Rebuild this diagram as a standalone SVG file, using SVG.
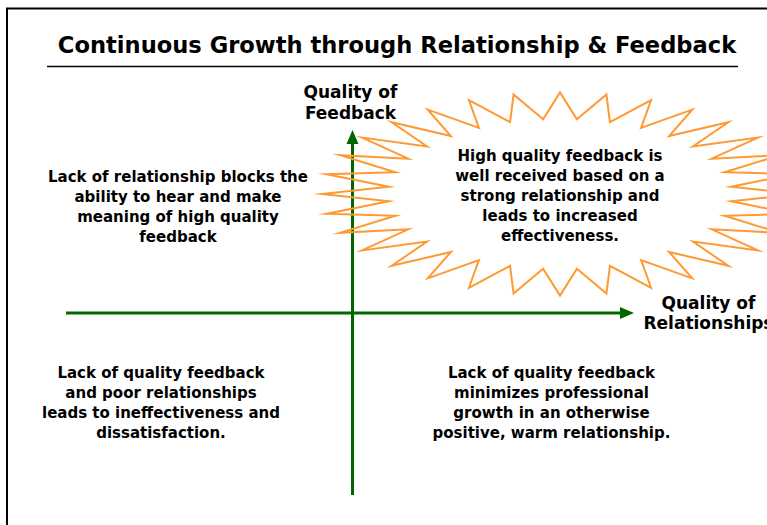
<svg xmlns="http://www.w3.org/2000/svg" width="767" height="525" viewBox="0 0 767 525">
<style>
.t{font-family:"DejaVu Sans","Verdana",sans-serif;font-weight:bold;font-size:15px;fill:#000;text-anchor:middle}
.lab{font-family:"DejaVu Sans","Verdana",sans-serif;font-weight:bold;font-size:17px;fill:#000;text-anchor:middle}
.title{font-family:"DejaVu Sans","Verdana",sans-serif;font-weight:bold;font-size:22.6px;fill:#000;text-anchor:middle}
.ax{stroke:#006600;stroke-width:3;fill:none}
.ah{fill:#006600}
.star{fill:none;stroke:#FF9933;stroke-width:2;stroke-linejoin:miter;stroke-miterlimit:20}
</style>
<rect x="0" y="0" width="767" height="525" fill="#fff"/>
<rect x="7" y="8.5" width="820" height="600" fill="none" stroke="#000" stroke-width="2"/>
<g id="title">
<text class="title" x="397" y="52.5">Continuous Growth through Relationship &amp; Feedback</text>
<line x1="47" y1="66.5" x2="738" y2="66.5" stroke="#000" stroke-width="1.5"/>
</g>
<g id="connectors">
<line class="ax" x1="352.5" y1="142" x2="352.5" y2="495"/>
<polygon class="ah" points="352.5,130 346.5,144 358.5,144"/>
<line class="ax" x1="66" y1="313" x2="621" y2="313"/>
<polygon class="ah" points="634,313 620,307 620,319"/>
</g>
<g id="star">
<polygon class="star" points="798,194 731.17,186.65 793.43,174.2 724.59,172.23 779.88,155.16 711.69,158.64 757.89,137.61 692.96,146.42 728.29,122.23 669.12,136.02 692.23,109.61 641.08,127.86 651.08,100.23 609.93,122.23 606.43,94.45 576.86,119.36 560,92.5 543.14,119.36 513.57,94.45 510.07,122.23 468.92,100.23 478.92,127.86 427.77,109.61 450.88,136.02 391.71,122.23 427.04,146.42 362.11,137.61 408.31,158.64 340.12,155.16 395.41,172.23 326.57,174.2 388.83,186.65 322,194 388.83,201.35 326.57,213.8 395.41,215.77 340.12,232.84 408.31,229.36 362.11,250.39 427.04,241.58 391.71,265.77 450.88,251.98 427.77,278.39 478.92,260.14 468.92,287.77 510.07,265.77 513.57,293.55 543.14,268.64 560,295.5 576.86,268.64 606.43,293.55 609.93,265.77 651.08,287.77 641.08,260.14 692.23,278.39 669.12,251.98 728.29,265.77 692.96,241.58 757.89,250.39 711.69,229.36 779.88,232.84 724.59,215.77 793.43,213.8 731.17,201.35"/>
<text class="t" x="560" y="161">High quality feedback is</text>
<text class="t" x="560" y="181">well received based on a</text>
<text class="t" x="560" y="201">strong relationship and</text>
<text class="t" x="560" y="221">leads to increased</text>
<text class="t" x="560" y="241">effectiveness.</text>
</g>
<g id="label-feedback">
<text class="lab" x="350.5" y="98">Quality of</text>
<text class="lab" x="350.5" y="119">Feedback</text>
</g>
<g id="label-relationships">
<text class="lab" x="708.5" y="308.5">Quality of</text>
<text class="lab" x="708.5" y="329">Relationships</text>
</g>
<g id="q-top-left">
<text class="t" x="178" y="182">Lack of relationship blocks the</text>
<text class="t" x="178" y="202">ability to hear and make</text>
<text class="t" x="178" y="222">meaning of high quality</text>
<text class="t" x="178" y="242">feedback</text>
</g>
<g id="q-bottom-left">
<text class="t" x="161" y="377.5">Lack of quality feedback</text>
<text class="t" x="161" y="397.5">and poor relationships</text>
<text class="t" x="161" y="417.5">leads to ineffectiveness and</text>
<text class="t" x="161" y="437.5">dissatisfaction.</text>
</g>
<g id="q-bottom-right">
<text class="t" x="551.5" y="377.5">Lack of quality feedback</text>
<text class="t" x="551.5" y="397.5">minimizes professional</text>
<text class="t" x="551.5" y="417.5">growth in an otherwise</text>
<text class="t" x="551.5" y="437.5">positive, warm relationship.</text>
</g>
</svg>
